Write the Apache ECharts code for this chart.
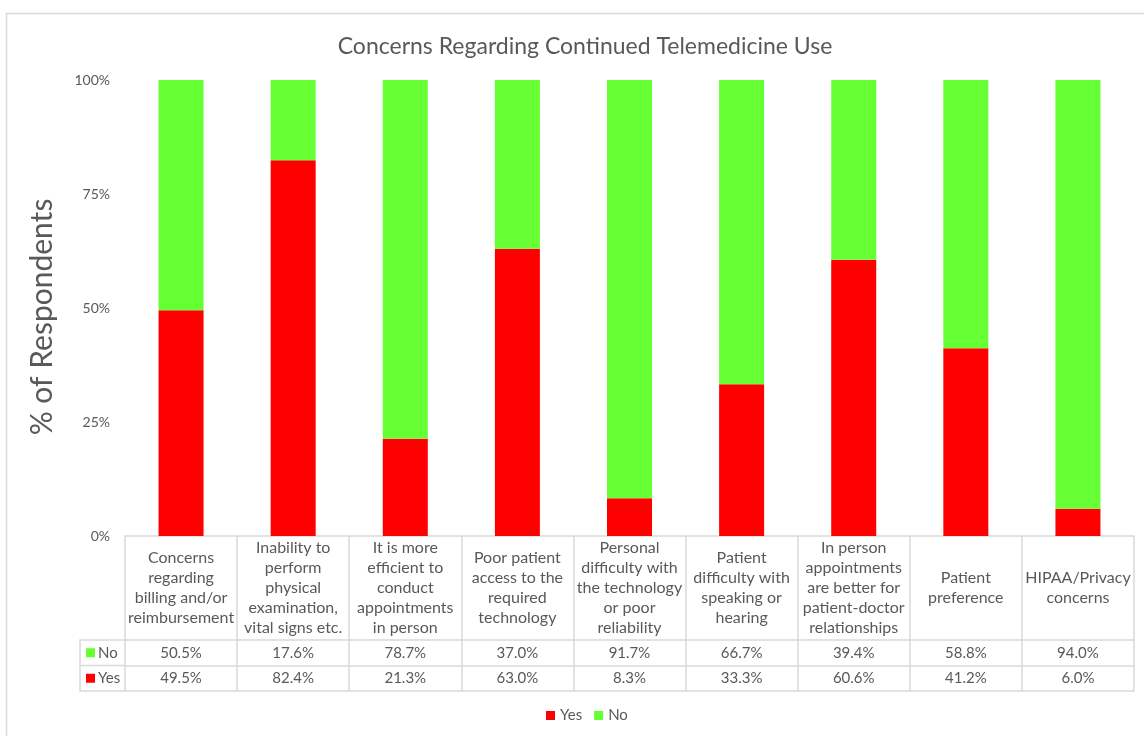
<!DOCTYPE html>
<html>
<head>
<meta charset="utf-8">
<title>Concerns Regarding Continued Telemedicine Use</title>
<script src="https://cdn.jsdelivr.net/npm/echarts@6/dist/echarts.min.js"></script>
<style>
  html, body { margin: 0; padding: 0; background: #fff; }
  #chart { width: 1144px; height: 736px; }
</style>
</head>
<body>
<div id="chart"></div>
<script>
// data
const categories = [
  'Concerns\nregarding\nbilling and/or\nreimbursement',
  'Inability to\nperform\nphysical\nexamination,\nvital signs etc.',
  'It is more\nefficient to\nconduct\nappointments\nin person',
  'Poor patient\naccess to the\nrequired\ntechnology',
  'Personal\ndifficulty with\nthe technology\nor poor\nreliability',
  'Patient\ndifficulty with\nspeaking or\nhearing',
  'In person\nappointments\nare better for\npatient-doctor\nrelationships',
  'Patient\npreference',
  'HIPAA/Privacy\nconcerns'
]
const yesValues = [49.5, 82.4, 21.3, 63.0, 8.3, 33.3, 60.6, 41.2, 6.0]
const noValues = [50.5, 17.6, 78.7, 37.0, 91.7, 66.7, 39.4, 58.8, 94.0]
const yTicks = [0, 25, 50, 75, 100]

const RED = '#ff0000'
const GREEN = '#66ff33'
const TEXT = '#595959'
const LINE = '#d9d9d9'
const FONT = 'Lato, "Open Sans", sans-serif'

// layout of plot + data table
const gridLeft = 125, gridTop = 80, gridRight = 10, gridBottom = 200
const headerH = 104, rowH = 25.5
const keyLeft = 80

const chart = echarts.init(document.getElementById('chart'))

const fmt = v => v.toFixed(1) + '%'
const zeroY = 736 - gridBottom
// top of "No" row, top of "Yes" row, bottom of table
const rowTops = [zeroY + headerH, zeroY + headerH + rowH, zeroY + headerH + 2 * rowH]

// table row axes
const tableAxis = (values, offset, showLabel) => ({
  type: 'category',
  position: 'bottom',
  offset: offset,
  data: values,
  axisLine: { show: true, lineStyle: { color: LINE, width: 1.5 } },
  axisTick: { show: showLabel, length: rowH, lineStyle: { color: LINE, width: 1.5 } },
  axisLabel: {
    show: showLabel,
    interval: 0,
    margin: rowH / 2,
    verticalAlign: 'middle',
    color: TEXT,
    fontFamily: FONT,
    fontSize: 15
  }
})

const option = {
  animation: false,
  textStyle: { fontFamily: FONT },
  title: {
    text: 'Concerns Regarding Continued Telemedicine Use',
    left: 580,
    textAlign: 'center',
    top: 30,
    textStyle: { color: TEXT, fontSize: 23, fontWeight: 'normal', fontFamily: FONT }
  },
  legend: {
    data: ['Yes', 'No'],
    bottom: 8,
    left: 541,
    itemWidth: 9,
    itemHeight: 9,
    itemGap: 12,
    icon: 'rect',
    textStyle: { color: TEXT, fontSize: 15, fontFamily: FONT }
  },
  grid: { left: gridLeft, right: gridRight, top: gridTop, bottom: gridBottom },
  xAxis: [
    {
      type: 'category',
      data: categories,
      axisLine: { show: true, lineStyle: { color: LINE, width: 1.5 } },
      axisTick: { show: true, length: headerH, lineStyle: { color: LINE, width: 1.5 } },
      axisLabel: {
        interval: 0,
        margin: headerH / 2,
        verticalAlign: 'middle',
        lineHeight: 20,
        color: TEXT,
        fontFamily: FONT,
        fontSize: 16
      }
    },
    tableAxis(noValues.map(fmt), headerH, true),
    tableAxis(yesValues.map(fmt), headerH + rowH, true),
    tableAxis(categories.map(() => ''), headerH + 2 * rowH, false)
  ],
  yAxis: {
    type: 'value',
    min: 0,
    max: 100,
    interval: 25,
    name: '% of Respondents',
    nameLocation: 'middle',
    nameGap: 68,
    nameTextStyle: { color: TEXT, fontSize: 30, fontFamily: FONT, padding: [0, 18, 0, 0] },
    axisLine: { show: false },
    axisTick: { show: false },
    splitLine: { show: false },
    axisLabel: {
      margin: 15,
      color: TEXT,
      fontSize: 14,
      fontFamily: FONT,
      formatter: v => (yTicks.includes(v) ? v + '%' : '')
    }
  },
  series: [
    {
      name: 'Yes',
      type: 'bar',
      stack: 'total',
      barWidth: 45,
      itemStyle: { color: RED },
      data: yesValues
    },
    {
      name: 'No',
      type: 'bar',
      stack: 'total',
      barWidth: 45,
      itemStyle: { color: GREEN },
      data: noValues
    }
  ],
  graphic: [
    // chart area border
    {
      type: 'rect',
      shape: { x: 6.5, y: 13.5, width: 1160, height: 760 },
      style: { fill: 'none', stroke: LINE, lineWidth: 1.5 },
      silent: true
    },
    // left key column of the data table
    {
      type: 'polyline',
      shape: { points: [[gridLeft, rowTops[0]], [keyLeft, rowTops[0]], [keyLeft, rowTops[2]], [gridLeft, rowTops[2]]] },
      style: { fill: 'none', stroke: LINE, lineWidth: 1.5 },
      silent: true
    },
    {
      type: 'line',
      shape: { x1: keyLeft, y1: rowTops[1], x2: gridLeft, y2: rowTops[1] },
      style: { stroke: LINE, lineWidth: 1.5 },
      silent: true
    },
    {
      type: 'rect',
      shape: { x: keyLeft + 6, y: rowTops[0] + rowH / 2 - 4.5, width: 9, height: 9 },
      style: { fill: GREEN },
      silent: true
    },
    {
      type: 'text',
      x: keyLeft + 18,
      y: rowTops[0] + rowH / 2,
      style: { text: 'No', fill: TEXT, fontSize: 15, fontFamily: FONT, verticalAlign: 'middle' },
      silent: true
    },
    {
      type: 'rect',
      shape: { x: keyLeft + 6, y: rowTops[1] + rowH / 2 - 4.5, width: 9, height: 9 },
      style: { fill: RED },
      silent: true
    },
    {
      type: 'text',
      x: keyLeft + 18,
      y: rowTops[1] + rowH / 2,
      style: { text: 'Yes', fill: TEXT, fontSize: 15, fontFamily: FONT, verticalAlign: 'middle' },
      silent: true
    }
  ]
}

chart.setOption(option)
window.addEventListener('resize', () => chart.resize())
</script>
</body>
</html>
